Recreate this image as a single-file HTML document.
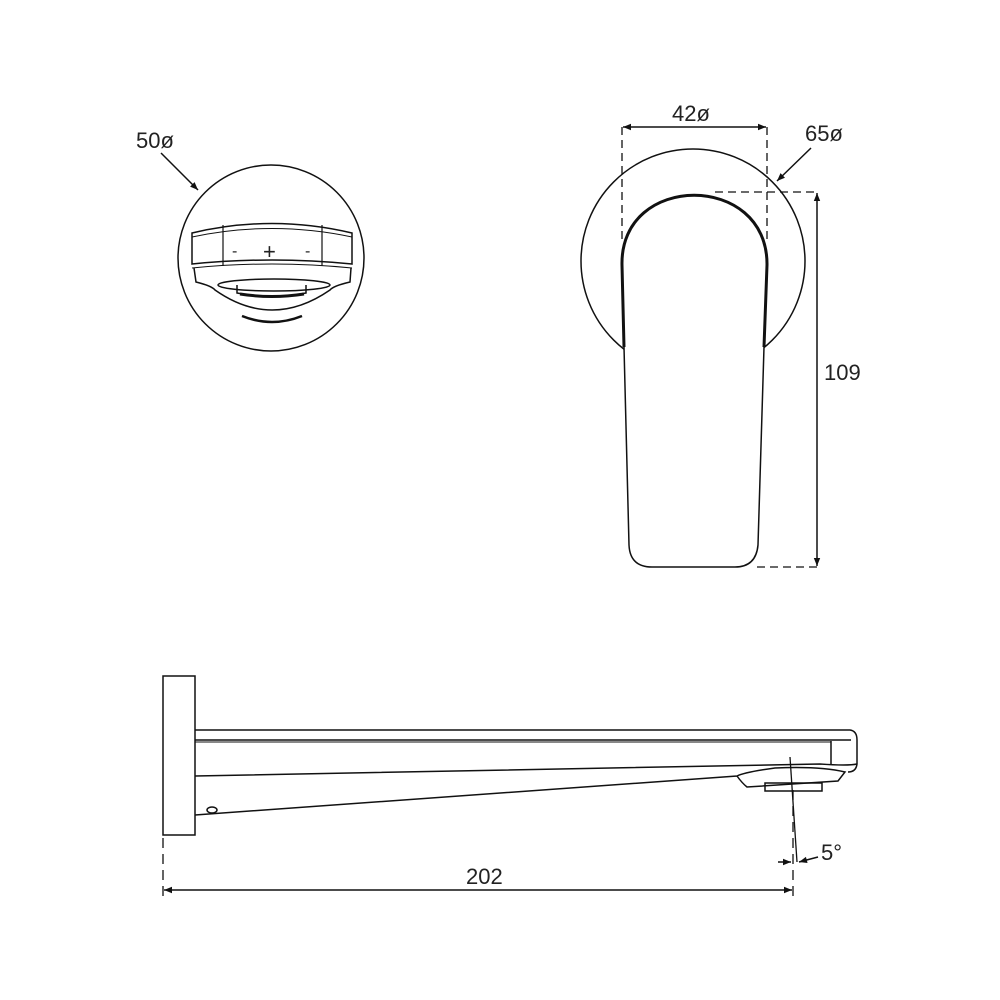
<!DOCTYPE html>
<html><head><meta charset="utf-8"><style>
html,body{margin:0;padding:0;background:#fff;}
svg{display:block}
text{font-family:"Liberation Sans",sans-serif;fill:#222;}
</style></head><body>
<svg width="1000" height="1000" viewBox="0 0 1000 1000" xmlns="http://www.w3.org/2000/svg">
<defs>
<marker id="a" viewBox="0 0 10 10" refX="10" refY="5" markerWidth="10" markerHeight="8" orient="auto-start-reverse" markerUnits="userSpaceOnUse"><path d="M0,1 L10,5 L0,9 Z" fill="#111"/></marker>
</defs>
<g fill="none" stroke="#111" stroke-width="1.5">
<circle cx="271" cy="258" r="93"/>
<line x1="161" y1="153" x2="198" y2="190" marker-end="url(#a)"/>
<path d="M192,233 Q272,214 352,233 L352,264 Q272,256 192,264 Z"/>
<path d="M192,237 Q272,220 352,237" stroke-width="1"/>
<path d="M192,268 Q272,260 352,268" stroke-width="1"/>
<line x1="223" y1="225" x2="223" y2="266" stroke-width="1.2"/>
<line x1="322" y1="225" x2="322" y2="266" stroke-width="1.2"/>
<path d="M194,268 L196,282 Q212,286 215,290 Q272,330 330,290 Q333,286 350,282 L351,268"/>
<ellipse cx="274" cy="285" rx="56" ry="6"/>
<path d="M237,285 L237,293 Q272,300 306,293 L306,285" />
<path d="M240,294 Q272,299 304,294" stroke-width="3"/>
<path d="M242,316 Q272,328 302,316" stroke-width="2.5"/>
<circle cx="693" cy="261" r="112"/>
<path d="M624,347 L622,265 C620,172 768,172 767,265 L764,347 L758,545 Q756,567 735,567 L652,567 Q630,567 629,545 Z" fill="#fff" stroke-width="1.5"/>
<path d="M624,347 L622,265 C620,172 768,172 767,265 L764,347" stroke-width="3"/>
<g stroke-dasharray="8,5" stroke-width="1.3">
<line x1="622" y1="127" x2="622" y2="240"/>
<line x1="767" y1="127" x2="767" y2="240"/>
<line x1="715" y1="192" x2="817" y2="192"/>
<line x1="757" y1="567" x2="817" y2="567"/>
</g>
<line x1="623" y1="127" x2="766" y2="127" marker-start="url(#a)" marker-end="url(#a)"/>
<line x1="817" y1="193" x2="817" y2="566" marker-start="url(#a)" marker-end="url(#a)"/>
<line x1="811" y1="148" x2="777" y2="181" marker-end="url(#a)"/>
<rect x="163" y="676" width="32" height="159"/>
<path d="M195,730 L850,730 Q857,731 857,740 L857,764 Q856,772 848,772"/>
<line x1="195" y1="740" x2="851" y2="740"/>
<line x1="195" y1="742" x2="831" y2="742" stroke-width="1"/>
<line x1="831" y1="741" x2="831" y2="764"/>
<path d="M195,776 L820,764 Q848,766 857,764"/>
<path d="M195,815 L737,776 Q745,772 775,768 Q820,766 845,772 L838,781 L747,787 Q742,783 737,776"/>
<rect x="765" y="783" width="57" height="8"/>
<ellipse cx="212" cy="810" rx="5" ry="3"/>
<line x1="790" y1="757" x2="797" y2="862" stroke-width="1.3"/>
<g stroke-dasharray="10,6" stroke-width="1.3">
<line x1="163" y1="838" x2="163" y2="897"/>
<line x1="793" y1="790" x2="793" y2="900"/>
</g>
<line x1="164" y1="890" x2="792" y2="890" marker-start="url(#a)" marker-end="url(#a)"/>
<line x1="778" y1="862" x2="791" y2="862" marker-end="url(#a)"/>
<line x1="818" y1="857" x2="799" y2="862" marker-end="url(#a)"/>
</g>
<text x="136" y="148" font-size="22">50ø</text>
<text x="672" y="121" font-size="22">42ø</text>
<text x="805" y="141" font-size="22">65ø</text>
<text x="824" y="380" font-size="22">109</text>
<text x="466" y="884" font-size="22">202</text>
<text x="821" y="860" font-size="22">5°</text>
<text x="232" y="256" font-size="16">-</text>
<text x="263" y="259" font-size="22">+</text>
<text x="305" y="256" font-size="16">-</text>
</svg>
</body></html>
